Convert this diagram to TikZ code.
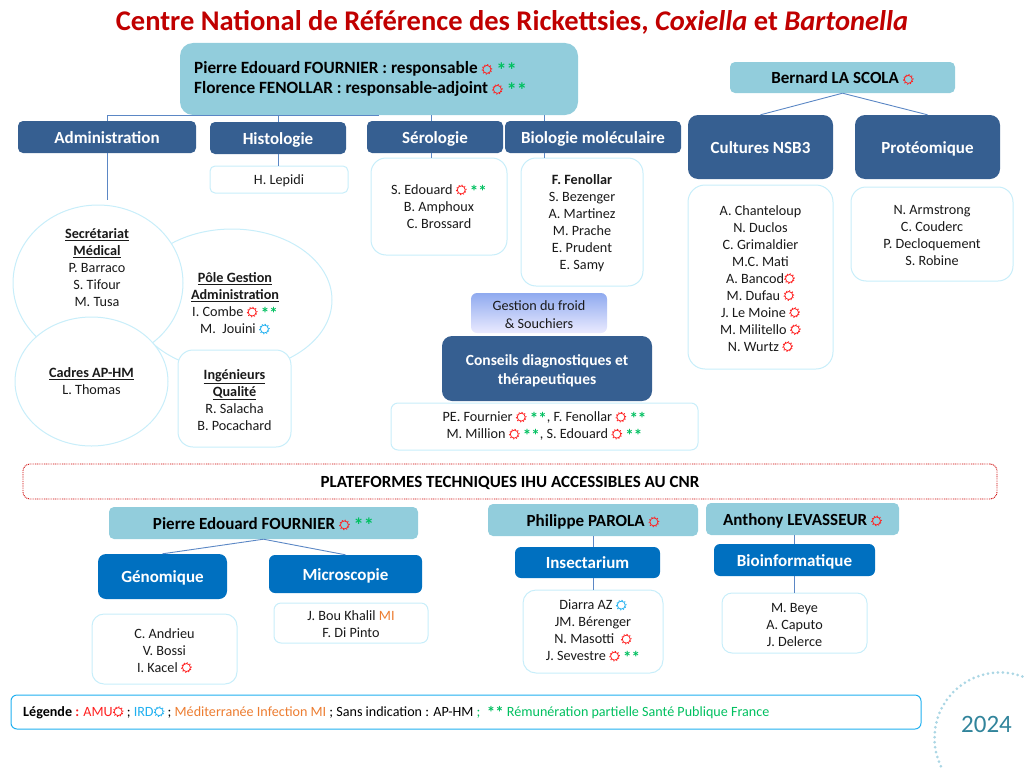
\documentclass[tikz,border=0pt]{standalone}
\usepackage{fontspec}
\usepackage{graphicx}
\usepackage{xcolor}
\setmainfont{Carlito}
\usetikzlibrary{shapes.geometric}
\definecolor{titlered}{HTML}{C00000}
\definecolor{headblue}{HTML}{365F91}
\definecolor{paleblue}{HTML}{92CDDC}
\definecolor{platblue}{HTML}{0070C0}
\definecolor{linkblue}{HTML}{5B87C5}
\definecolor{rimblue}{HTML}{C8EEFA}
\definecolor{starred}{HTML}{FF2020}
\definecolor{irdblue}{HTML}{20B0F0}
\definecolor{stargreen}{HTML}{00C060}
\definecolor{miorange}{HTML}{ED7D31}
\definecolor{inkblack}{HTML}{1A1A1A}
\definecolor{yearblue}{HTML}{31849B}
\definecolor{ringblue}{HTML}{ABD6E4}
\newcommand{\wheel}[1]{\tikz[baseline=-4.5pt]{\draw[#1,line width=.8pt] (0,0) circle (4pt);\draw[#1,line width=.9pt,dash pattern=on 1.1pt off 2pt] (0,0) circle (5pt);}}
\newcommand{\amu}{\wheel{starred}}
\newcommand{\ird}{\wheel{irdblue}}
\newcommand{\spf}{\raisebox{-.4ex}{\color{stargreen}\scalebox{1.2}{\textbf{**}}}}
\newcommand{\lift}{\rule[-5.6pt]{0pt}{24pt}}
\newcommand{\drop}{\rule{0pt}{13pt}}
\tikzset{
  box/.style={rounded corners=#1,inner sep=0pt,align=center},
  box/.default=6pt,
  boss/.style={box=5pt,fill=paleblue,text=black,font=\fontsize{17}{20}\selectfont\bfseries},
  head/.style={box=5pt,fill=headblue,text=white,font=\fontsize{17}{21}\selectfont\bfseries},
  plat/.style={box=6pt,fill=platblue,text=white,font=\fontsize{17}{21}\selectfont\bfseries},
  names/.style={box=12pt,draw=rimblue,line width=1pt,fill=white,text=inkblack,font=\fontsize{14.2}{17}\selectfont},
  blob/.style={ellipse,draw=rimblue,line width=1pt,fill=white,inner sep=0pt,text=inkblack,align=center,font=\fontsize{14.2}{17}\selectfont},
  words/.style={inner sep=0pt,text=inkblack,align=center,font=\fontsize{14.2}{17}\selectfont},
  link/.style={draw=linkblue,line width=.9pt},
}
\begin{document}
\begin{tikzpicture}[x=1pt,y=-1pt]
\useasboundingbox (0,0) rectangle (1024,768);
% titre
\node[inner sep=0pt,text=titlered,font=\fontsize{28.5}{32}\selectfont\bfseries] (titre) at (512,22) {Centre National de Référence des Rickettsies, \textit{Coxiella} et \textit{Bartonella}};
% responsables
\node[box=13pt,fill=paleblue,minimum width=398pt,minimum height=72pt] (resp) at (379,79) {};
\node[anchor=west,inner sep=0pt,align=left,text=black,font=\fontsize{17.2}{20}\selectfont\bfseries] (resptext) at (194,79.5) {Pierre Edouard FOURNIER : responsable \amu\ \spf\\Florence FENOLLAR : responsable-adjoint \amu\ \spf};
\node[boss,minimum width=225pt,minimum height=31pt] (scola) at (842.5,77.5) {\lift Bernard LA SCOLA \amu};
% services
\node[head,minimum width=178pt,minimum height=32pt] (admin) at (107,137) {\lift Administration};
\node[head,minimum width=136pt,minimum height=32pt] (histo) at (278,138) {\lift Histologie};
\node[head,minimum width=136pt,minimum height=32pt] (sero) at (435,137) {\lift Sérologie};
\node[head,minimum width=176pt,minimum height=32pt] (biomol) at (593,137) {\lift Biologie moléculaire};
\node[head,box=10pt,minimum width=145pt,minimum height=64pt] (nsb) at (760.5,147) {\lift Cultures NSB3};
\node[head,box=10pt,minimum width=145pt,minimum height=64pt] (proteo) at (927.5,147) {\lift Protéomique};
% listes
\node[names,box=5pt,minimum width=138pt,minimum height=27pt] (lepidi) at (279,179.5) {\drop H. Lepidi};
\node[names,box=15pt,minimum width=136pt,minimum height=97pt] (serolist) at (439,206.5) {S. Edouard \amu\ \spf\\B. Amphoux\\C. Brossard};
\node[names,box=15pt,minimum width=122pt,minimum height=128pt] (biolist) at (582,222) {\drop\textbf{F. Fenollar}\\S. Bezenger\\A. Martinez\\M. Prache\\E. Prudent\\E. Samy};
\node[names,box=17pt,minimum width=145pt,minimum height=184pt] (nsblist) at (760.5,277) {\drop A. Chanteloup\\N. Duclos\\C. Grimaldier\\M.C. Mati\\A. Bancod\amu\\M. Dufau \amu\\J. Le Moine \amu\\M. Militello \amu\\N. Wurtz \amu};
\node[names,box=15pt,minimum width=162pt,minimum height=94pt] (proteolist) at (932,234) {\drop N. Armstrong\\C. Couderc\\P. Decloquement\\S. Robine};
% administration
\node[blob,minimum width=200pt,minimum height=142pt] (pole) at (232,300) {};
\node[words] (poletext) at (235,303.5) {\textbf{\underline{Pôle Gestion}}\\\textbf{\underline{Administration}}\\I. Combe \amu\ \spf\\M.\ \ Jouini \ird};
\node[blob,minimum width=170pt,minimum height=156pt] (secr) at (98,283) {};
\node[words] (secrtext) at (97,268) {\textbf{\underline{Secrétariat}}\\\textbf{\underline{Médical}}\\P. Barraco\\S. Tifour\\M. Tusa};
\node[blob,minimum width=153pt,minimum height=129pt] (cadres) at (91.5,381.5) {\textbf{\underline{Cadres AP-HM}}\\L. Thomas};
\node[names,box=15pt,minimum width=113pt,minimum height=97pt] (inge) at (234.5,398.5) {\drop\textbf{\underline{Ingénieurs}}\\\textbf{\underline{Qualité}}\\R. Salacha\\B. Pocachard};
% conseils
\node[box=6pt,top color=blue!35!paleblue!70!white,bottom color=blue!8!white,text=inkblack,minimum width=136pt,minimum height=40pt,font=\fontsize{14.2}{18}\selectfont] (froid) at (539,313) {\drop Gestion du froid\\\& Souchiers};
\node[head,box=10pt,minimum width=210pt,minimum height=65pt,font=\fontsize{15.5}{19.5}\selectfont\bfseries] (conseils) at (547,368.5) {\rule{0pt}{15pt}Conseils diagnostiques et\\thérapeutiques};
\node[names,box=7pt,minimum width=307pt,minimum height=47pt] (conslist) at (544.5,426.5) {PE. Fournier \amu\ \spf, F. Fenollar \amu\ \spf\\M. Million \amu\ \spf, S. Edouard \amu\ \spf};
% plateformes
\node[box=7pt,draw=titlered!80!red,dash pattern=on .9pt off .9pt,line width=.9pt,minimum width=974pt,minimum height=35pt,text=black,font=\fontsize{17}{21}\selectfont\bfseries] (ihu) at (510,481.5) {\lift PLATEFORMES TECHNIQUES IHU ACCESSIBLES AU CNR};
\node[boss,minimum width=309pt,minimum height=32pt] (pef) at (263.5,523) {\lift Pierre Edouard FOURNIER \amu\ \spf};
\node[boss,minimum width=210pt,minimum height=32pt] (parola) at (593,520) {\lift Philippe PAROLA \amu};
\node[boss,minimum width=193pt,minimum height=32pt] (lev) at (802.5,519) {\lift Anthony LEVASSEUR \amu};
\node[plat,box=8pt,minimum width=129pt,minimum height=45pt] (geno) at (162.5,576.5) {\lift Génomique};
\node[plat,minimum width=153pt,minimum height=38pt] (micro) at (345.5,574) {\lift Microscopie};
\node[plat,minimum width=145pt,minimum height=31pt] (insect) at (587.5,562.5) {\lift Insectarium};
\node[plat,minimum width=161pt,minimum height=32pt] (bioinfo) at (794.5,560) {\lift Bioinformatique};
\node[names,box=12pt,minimum width=145pt,minimum height=70pt] (genolist) at (164.5,649) {\drop C. Andrieu\\V. Bossi\\I. Kacel \amu};
\node[names,box=7pt,minimum width=154pt,minimum height=40pt] (microlist) at (351,623) {\drop J. Bou Khalil {\color{miorange}MI}\\F. Di Pinto};
\node[names,box=13pt,minimum width=140pt,minimum height=83pt] (insectlist) at (593,631.5) {Diarra AZ \ird\\JM. Bérenger\\N. Masotti\ \ \amu\\J. Sevestre \amu\ \spf};
\node[names,box=10pt,minimum width=145pt,minimum height=60pt] (bioinfolist) at (794.5,623) {\drop M. Beye\\A. Caputo\\J. Delerce};
% legende
\node[box=6pt,draw=irdblue,line width=1pt,fill=white,minimum width=910pt,minimum height=34pt] (legende) at (466,712) {};
\node[anchor=west,inner sep=0pt,text=black,font=\fontsize{14.1}{16}\selectfont] (legtext) at (23,712.5) {\textbf{Légende {\color{starred}:}} {\color{starred}AMU}\amu\ ; {\color{irdblue}IRD}\ird\ ; {\color{miorange}Méditerranée Infection MI} ; Sans indication : AP-HM {\color{stargreen};\ \ \spf\ Rémunération partielle Santé Publique France}};
% annee
\node[circle,draw=ringblue,line width=3pt,line cap=round,dash pattern=on 0pt off 5pt,minimum size=131pt,inner sep=0pt] (rond) at (1000,738) {};
\node[inner sep=0pt,text=yearblue,font=\fontsize{25}{28}\selectfont] (annee) at (986.5,724.5) {2024};
% liens
\coordinate (adminend) at (107,200);
\coordinate (serotop) at (431,115);
\coordinate (biotop) at (544,115);
\draw[link] (admin.north) |- (resp.south);
\draw[link] (histo.north) |- (resp.south);
\draw[link] (serotop) -- (serotop |- sero.north);
\draw[link] (biotop) -- (biotop |- biomol.north);
\draw[link] (admin.south) -- (adminend);
\draw[link] (histo.south) -- (histo.south |- lepidi.north);
\draw[link] (serotop |- sero.south) -- (serotop |- serolist.north);
\draw[link] (biotop |- biomol.south) -- (biotop |- biolist.north);
\draw[link] (scola.south) -- (nsb.north);
\draw[link] (scola.south) -- (proteo.north);
\draw[link] (pef.south) -- (geno.north);
\draw[link] (pef.south) -- (micro.north);
\draw[link] (parola.south) -- (parola.south |- insect.north);
\draw[link] (parola.south |- insect.south) -- (parola.south |- insectlist.north);
\draw[link] (bioinfo.north |- lev.south) -- (bioinfo.north);
\draw[link] (bioinfo.south) -- (bioinfolist.north);
\end{tikzpicture}
\end{document}
